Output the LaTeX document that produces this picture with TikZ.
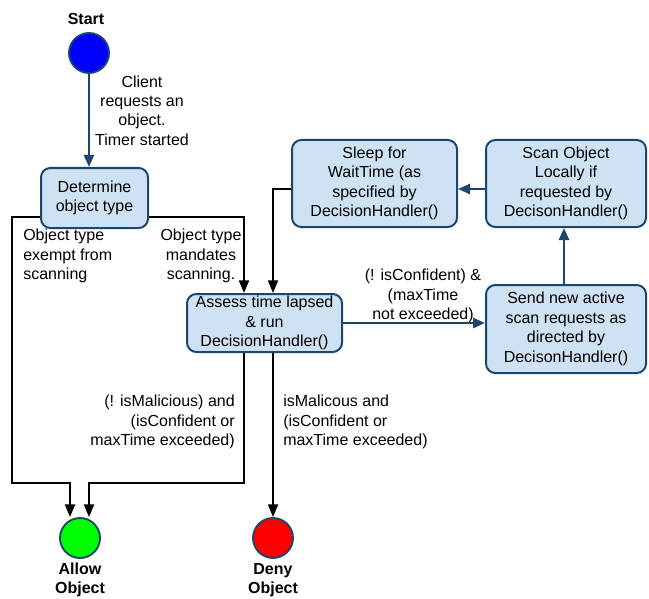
\documentclass[tikz,border=0pt]{standalone}
\usepackage{fontspec}
\setmainfont{Liberation Sans}
\usetikzlibrary{arrows.meta}
\definecolor{boxfill}{HTML}{CFE2F3}
\definecolor{boxline}{HTML}{1A4670}
\definecolor{arrblue}{HTML}{1A4670}
\begin{document}
\begin{tikzpicture}[x=0.75pt,y=-0.75pt,
  font=\fontsize{12}{14.6}\selectfont,
  statebox/.style={draw=boxline,fill=boxfill,line width=1.5pt,rounded corners=7pt,align=center,inner sep=0pt},
  term/.style={circle,draw=boxline,line width=1.4pt,minimum size=30pt,inner sep=0pt},
  lbl/.style={inner sep=0pt},
  blk/.style={draw=black,line width=1.5pt,-{Triangle[length=9.5pt,width=7.5pt]}},
  blu/.style={draw=arrblue,line width=1.8pt,-{Triangle[length=9pt,width=7.5pt]}}]
\useasboundingbox (0,0) rectangle (649,599);
% terminals
\node[term,fill=blue] (start) at (89,53) {};
\node[term,fill={rgb,255:red,0;green,255;blue,0}] (allow) at (80,538) {};
\node[term,fill=red] (deny) at (273,538) {};
\node[lbl,font=\fontsize{12}{14.6}\selectfont\bfseries] (startl) at (86,19) {Start};
\node[lbl,align=center,font=\fontsize{12}{14.6}\selectfont\bfseries] (allowl) at (80,580) {Allow\\Object};
\node[lbl,align=center,font=\fontsize{12}{14.6}\selectfont\bfseries] (denyl) at (273,580) {Deny\\Object};
% boxes
\node[statebox,minimum width=80.25pt,minimum height=45pt] (det) at (94.5,198) {Determine\\object type};
\node[statebox,minimum width=116.25pt,minimum height=43.5pt] (assess) at (264.5,323) {Assess time lapsed\\\& run\\DecisionHandler()};
\node[statebox,minimum width=123.75pt,minimum height=65.25pt] (sleep) at (374.5,183.5) {Sleep for\\WaitTime (as\\specified by\\DecisionHandler()};
\node[statebox,minimum width=120pt,minimum height=65.25pt] (scan) at (566,183.5) {Scan Object\\Locally if\\requested by\\DecisonHandler()};
\node[statebox,minimum width=120pt,minimum height=66pt] (send) at (566,329) {Send new active\\scan requests as\\directed by\\DecisonHandler()};
% labels
\node[lbl,align=center] (l1) at (142,110.5) {Client\\requests an\\object.\\Timer started};
\node[lbl,align=left,anchor=west] (l2) at (23,256) {Object type\\exempt from\\scanning};
\node[lbl,align=center] (l3) at (201,256) {Object type\\mandates\\scanning.};
\node[lbl,align=center] (l4) at (423,296) {(! isConfident) \&\\(maxTime\\not exceeded)};
\node[lbl,align=right,anchor=east] (l5) at (235,422) {(! isMalicious) and\\(isConfident or\\maxTime exceeded)};
\node[lbl,align=left,anchor=west] (l6) at (283,422) {isMalicous and\\(isConfident or\\maxTime exceeded)};
% connectors
\coordinate (c1) at (12,483);
\coordinate (c2) at (89,483);
\draw[blu] (start.south) -- (start.south |- det.north);
\draw[blk] (det.west |- 0,217) -| (c1) -| (allow.north -| 70,0);
\draw[blk] (det.east |- 0,217) -| (assess.north -| 244,0);
\draw[blk] (assess.south -| 244,0) |- (c2) -- (allow.north -| c2);
\draw[blk] (sleep.west |- 0,189) -| (assess.north -| 273,0);
\draw[blk] (assess.south -| deny.north) -- (deny.north);
\draw[blu] (assess.east) -- (assess.east -| send.west);
\draw[blu] (send.north -| 564,0) -- (scan.south -| 564,0);
\draw[blu] (scan.west |- 0,189) -- (sleep.east |- 0,189);
\end{tikzpicture}
\end{document}
